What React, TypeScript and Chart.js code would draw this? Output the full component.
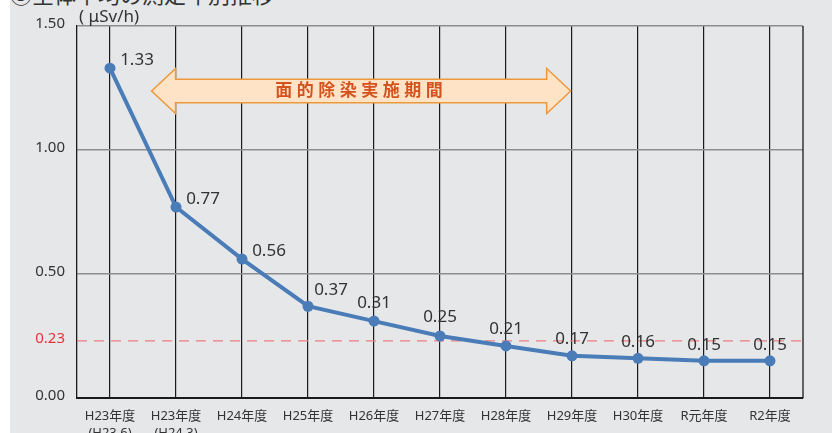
import React, { useEffect, useRef } from "react";
import { Chart, registerables } from "chart.js";

Chart.register(...registerables);

// ---- data ----
const categories: (string | string[])[] = [
  ["H23年度", "(H23.6)"],
  ["H23年度", "(H24.3)"],
  "H24年度",
  "H25年度",
  "H26年度",
  "H27年度",
  "H28年度",
  "H29年度",
  "H30年度",
  "R元年度",
  "R2年度",
];
const doseRates = [1.33, 0.77, 0.56, 0.37, 0.31, 0.25, 0.21, 0.17, 0.16, 0.15, 0.15];
const yTickValues = [0, 0.23, 0.5, 1.0, 1.5];
const referenceLevel = 0.23;
const unitLabel = "( μSv/h)";
const titleText = "③全体平均の測定年別推移";
const arrowLabel = "面的除染実施期間";
// arrow tips given in category-index units, height in value units
const arrowFromIndex = 0.63;
const arrowToIndex = 6.98;
const arrowLevel = 1.238;

// ---- styles ----
const FONT = '"Noto Sans", "Noto Sans CJK JP", sans-serif';
const LINE_BLUE = "#4a7cb8";
const TEXT = "#333333";
const RED = "#e8333a";
// per-point label offset (px) relative to the point
const labelOffsets: [number, number][] = [
  [27, -8], [27, -8], [27, -8], [23, -16], [0, -18], [0, -19],
  [0, -17], [0, -17], [0, -16], [0, -16], [0, -16],
];

const overlayPlugin = {
  id: "overlay",
  beforeDatasetsDraw(chart: any) {
    const { ctx, chartArea, scales } = chart;
    const x = scales.x;
    const y = scales.y;
    ctx.save();
    // reference dashed line
    const ry = y.getPixelForValue(referenceLevel);
    ctx.strokeStyle = "#ee7d84";
    ctx.lineWidth = 1.3;
    ctx.setLineDash([10, 7]);
    ctx.beginPath();
    ctx.moveTo(chartArea.left, ry);
    ctx.lineTo(chartArea.right, ry);
    ctx.stroke();
    ctx.setLineDash([]);
    // right frame line
    ctx.strokeStyle = "#1a1a1a";
    ctx.lineWidth = 1.3;
    ctx.beginPath();
    ctx.moveTo(chartArea.right, chartArea.top);
    ctx.lineTo(chartArea.right, chartArea.bottom);
    ctx.stroke();

    // double arrow
    const tipL = x.getPixelForValue(arrowFromIndex);
    const tipR = x.getPixelForValue(arrowToIndex);
    const cy = y.getPixelForValue(arrowLevel);
    const bodyHalf = 11.8;
    const headHalf = 22.5;
    const headLen = 24;
    ctx.beginPath();
    ctx.moveTo(tipL, cy);
    ctx.lineTo(tipL + headLen, cy - headHalf);
    ctx.lineTo(tipL + headLen, cy - bodyHalf);
    ctx.lineTo(tipR - headLen, cy - bodyHalf);
    ctx.lineTo(tipR - headLen, cy - headHalf);
    ctx.lineTo(tipR, cy);
    ctx.lineTo(tipR - headLen, cy + headHalf);
    ctx.lineTo(tipR - headLen, cy + bodyHalf);
    ctx.lineTo(tipL + headLen, cy + bodyHalf);
    ctx.lineTo(tipL + headLen, cy + headHalf);
    ctx.closePath();
    ctx.fillStyle = "#fee3c6";
    ctx.fill();
    ctx.strokeStyle = "#eb993c";
    ctx.lineWidth = 1.5;
    ctx.lineJoin = "miter";
    ctx.stroke();

    ctx.fillStyle = "#d4521e";
    ctx.font = `bold 17px ${FONT}`;
    (ctx as any).letterSpacing = "4.5px";
    ctx.textAlign = "center";
    ctx.textBaseline = "middle";
    ctx.fillText(arrowLabel, (tipL + tipR) / 2, cy + 0.5);
    (ctx as any).letterSpacing = "0px";

    // unit label
    ctx.fillStyle = TEXT;
    ctx.font = `17px ${FONT}`;
    ctx.textAlign = "left";
    ctx.textBaseline = "middle";
    ctx.fillText(unitLabel, chartArea.left + 2, chartArea.top - 9);
    ctx.restore();
  },
  afterDatasetsDraw(chart: any) {
    const { ctx } = chart;
    const meta = chart.getDatasetMeta(0);
    ctx.save();
    ctx.fillStyle = TEXT;
    ctx.font = `17px ${FONT}`;
    ctx.textAlign = "center";
    ctx.textBaseline = "middle";
    meta.data.forEach((pt: any, i: number) => {
      const [dx, dy] = labelOffsets[i];
      ctx.fillText(doseRates[i].toFixed(2), pt.x + dx, pt.y + dy);
    });
    ctx.restore();
  },
};

export default function App() {
  const canvasRef = useRef<HTMLCanvasElement | null>(null);

  useEffect(() => {
    document.body.style.margin = "0";
    const canvas = canvasRef.current;
    if (!canvas) return;
    const chart = new Chart(canvas, {
      type: "line",
      data: {
        labels: categories as any,
        datasets: [
          {
            data: doseRates,
            borderColor: LINE_BLUE,
            backgroundColor: LINE_BLUE,
            borderWidth: 4,
            pointRadius: 5.5,
            pointBackgroundColor: LINE_BLUE,
            pointBorderWidth: 0,
            tension: 0,
            fill: false,
          },
        ],
      },
      options: {
        animation: false,
        responsive: false,
        maintainAspectRatio: false,
        layout: { padding: { top: 26, right: 29, left: 0, bottom: 0 } },
        plugins: {
          legend: { display: false },
          tooltip: { enabled: false },
          title: { display: false },
        },
        scales: {
          x: {
            type: "category",
            offset: true,
            grid: {
              offset: false,
              color: "#1a1a1a",
              lineWidth: 1.2,
              drawTicks: false,
            },
            border: { display: true, color: "#1a1a1a", width: 2 },
            ticks: {
              autoSkip: false,
              maxRotation: 0,
              minRotation: 0,
              padding: 10,
              color: TEXT,
              font: { family: FONT, size: 13, lineHeight: 1.3 },
            },
            afterFit: (s: any) => {
              s.height = 35;
            },
          },
          y: {
            type: "linear",
            min: 0,
            max: 1.5,
            afterBuildTicks: (axis: any) => {
              axis.ticks = yTickValues.map((v) => ({ value: v }));
            },
            afterFit: (s: any) => {
              s.width = 67;
            },
            grid: {
              color: (c: any) =>
                c.tick && c.tick.value === referenceLevel ? "rgba(0,0,0,0)" : "#8e8e8e",
              lineWidth: 1.5,
              drawTicks: false,
            },
            border: { display: true, color: "#1a1a1a", width: 1.3 },
            ticks: {
              padding: 12,
              labelOffset: -2,
              color: (c: any) =>
                c.tick && c.tick.value === referenceLevel ? RED : TEXT,
              font: { family: FONT, size: 15 },
              callback: (v: any) => Number(v).toFixed(2),
            },
          },
        },
      },
      plugins: [overlayPlugin],
    });
    return () => chart.destroy();
  }, []);

  return (
    <div
      style={{
        position: "fixed",
        left: 10,
        top: 0,
        width: 822,
        height: 433,
        background: "#e6e7e9",
        overflow: "hidden",
      }}
    >
      <div
        style={{
          position: "absolute",
          left: 0,
          top: -18,
          fontFamily: FONT,
          fontSize: 22,
          lineHeight: "24px",
          color: TEXT,
          whiteSpace: "nowrap",
        }}
      >
        {titleText}
      </div>
      <canvas
        ref={canvasRef}
        width={822}
        height={433}
        style={{ position: "absolute", left: 0, top: 0, width: 822, height: 433 }}
      />
    </div>
  );
}
